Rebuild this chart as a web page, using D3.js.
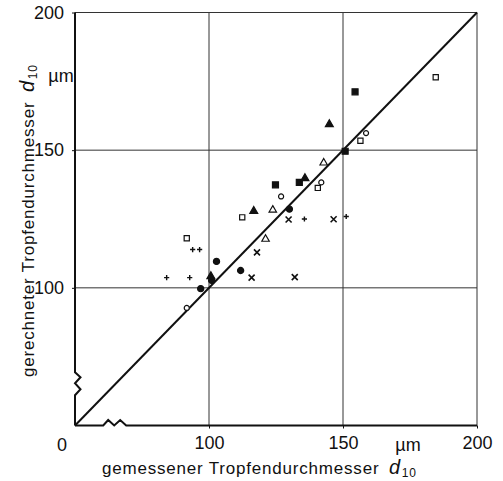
<!DOCTYPE html>
<html>
<head>
<meta charset="utf-8">
<script src="https://cdn.jsdelivr.net/npm/d3@7"></script>
<style>
  body { margin: 0; background: #fff; }
  svg { display: block; }
  text { font-family: "Liberation Sans", Arial, sans-serif; fill: #111; }
</style>
</head>
<body>
<svg></svg>
<script>
var width = 503;
var height = 481;

// measured d10 vs calculated d10 (µm), one array per marker
var filledSquare = [[124.8, 137.4], [133.7, 138.3], [150.8, 149.6], [154.5, 171.2]];
var openSquare = [[91.7, 118.0], [112.4, 125.6], [140.6, 136.3], [156.5, 153.4], [184.6, 176.5]];
var filledCircle = [[96.9, 99.7], [102.8, 109.6], [101.0, 102.7], [111.8, 106.3], [130.0, 128.6]];
var openCircle = [[91.7, 92.7], [126.9, 133.2], [141.9, 138.3], [158.6, 156.2]];
var filledTriangle = [[100.7, 104.2], [116.7, 127.9], [135.8, 139.8], [144.9, 159.4]];
var openTriangle = [[121.1, 117.7], [123.8, 128.3], [142.8, 145.4]];
var times = [[117.9, 112.9], [115.9, 103.7], [129.7, 124.8], [132.0, 103.9], [146.5, 124.9]];
var plus = [[84.2, 103.7], [92.8, 103.7], [93.9, 113.9], [96.5, 113.9], [135.6, 125.0], [151.2, 125.9]];

var xTicks = [100, 150, 200];
var yTicks = [100, 150, 200];
var gridValues = [100, 150];
var domainMin = 50, domainMax = 200;
var breakAt = 65;

var svg = d3.select('svg')
    .attr('width', width)
    .attr('height', height);

var x = d3.scaleLinear().domain([domainMin, domainMax]).range([75, 477]);
var y = d3.scaleLinear().domain([domainMin, domainMax]).range([425.5, 12.5]);

// grid
var grid = svg.append('g').attr('class', 'grid')
    .attr('stroke', '#333').attr('stroke-width', 1).attr('fill', 'none');

grid.selectAll('line.v')
    .data(gridValues.concat([domainMax]))
    .enter().append('line')
    .attr('x1', function(d) { return x(d); })
    .attr('x2', function(d) { return x(d); })
    .attr('y1', y(domainMin))
    .attr('y2', y(domainMax));

grid.selectAll('line.h')
    .data(gridValues.concat([domainMax]))
    .enter().append('line')
    .attr('class', 'h')
    .attr('y1', function(d) { return y(d); })
    .attr('y2', function(d) { return y(d); })
    .attr('x1', x(domainMin))
    .attr('x2', x(domainMax));

// axes with the tick labels
var xAxis = svg.append('g')
    .attr('transform', 'translate(0,' + y(domainMin) + ')')
    .call(d3.axisBottom(x).tickValues(xTicks).tickSize(3).tickPadding(8).tickFormat(d3.format('d')));
var yAxis = svg.append('g')
    .attr('transform', 'translate(' + x(domainMin) + ',0)')
    .call(d3.axisLeft(y).tickValues(yTicks).tickSize(3).tickPadding(8).tickFormat(d3.format('d')));

[xAxis, yAxis].forEach(function(a) {
    a.select('.domain').remove();
    a.selectAll('line').attr('stroke', '#111');
    a.selectAll('text')
        .attr('fill', '#111')
        .style('font-family', '"Liberation Sans", Arial, sans-serif')
        .style('font-size', '18px');
});

// origin label
svg.append('text')
    .attr('x', x(domainMin) - 13)
    .attr('y', y(domainMin) + 25)
    .attr('text-anchor', 'middle')
    .style('font-size', '18px')
    .text('0');

// axis lines with break marks
var bx = x(breakAt), by = y(breakAt);
var x0 = x(domainMin), y0 = y(domainMin);
var yAxisPath = d3.path();
yAxisPath.moveTo(x0, y(domainMax));
yAxisPath.lineTo(x0, by - 12);
yAxisPath.lineTo(x0 + 5.5, by - 7);
yAxisPath.lineTo(x0, by - 1);
yAxisPath.lineTo(x0 + 5.5, by + 5);
yAxisPath.lineTo(x0, by + 11);
yAxisPath.lineTo(x0, y0);
var xAxisPath = d3.path();
xAxisPath.moveTo(x0, y0);
xAxisPath.lineTo(bx - 12, y0);
xAxisPath.lineTo(bx - 7, y0 - 5.5);
xAxisPath.lineTo(bx - 1, y0);
xAxisPath.lineTo(bx + 5, y0 - 5.5);
xAxisPath.lineTo(bx + 11, y0);
xAxisPath.lineTo(x(domainMax), y0);

svg.append('path').attr('d', yAxisPath.toString())
    .attr('fill', 'none').attr('stroke', '#111').attr('stroke-width', 2);
svg.append('path').attr('d', xAxisPath.toString())
    .attr('fill', 'none').attr('stroke', '#111').attr('stroke-width', 2);

// 1:1 line
svg.append('line')
    .attr('x1', x(domainMin)).attr('y1', y(domainMin))
    .attr('x2', x(domainMax)).attr('y2', y(domainMax))
    .attr('stroke', '#111').attr('stroke-width', 2);

// markers
var series = [
    { data: filledSquare, shape: 'square', filled: true },
    { data: openSquare, shape: 'square', filled: false },
    { data: filledCircle, shape: 'circle', filled: true },
    { data: openCircle, shape: 'circle', filled: false },
    { data: filledTriangle, shape: 'triangle', filled: true },
    { data: openTriangle, shape: 'triangle', filled: false },
    { data: times, shape: 'times', filled: false },
    { data: plus, shape: 'plus', filled: false }
];

function ShapePath(s) {
    if (s.shape === 'square') return s.filled ? 'M-3,-3H3V3H-3Z' : 'M-2.6,-2.6H2.6V2.6H-2.6Z';
    if (s.shape === 'circle') return d3.symbol(d3.symbolCircle, s.filled ? 30 : 20)();
    if (s.shape === 'triangle') return d3.symbol(d3.symbolTriangle, s.filled ? 27 : 24)();
    if (s.shape === 'times') return 'M-3,-3L3,3M-3,3L3,-3';
    return 'M-2.6,0H2.6M0,-2.6V2.6';
}

var marks = svg.append('g').attr('class', 'marks');
series.forEach(function(s) {
    marks.append('g').selectAll('path')
        .data(s.data)
        .enter().append('path')
        .attr('transform', function(d) { return 'translate(' + x(d[0]) + ',' + y(d[1]) + ')'; })
        .attr('d', ShapePath(s))
        .attr('fill', s.filled ? '#111' : '#fff')
        .attr('stroke', '#111')
        .attr('stroke-width', s.shape === 'times' ? 1.6 : (s.shape === 'plus' ? 1.4 : 1.2));
});

// unit labels
svg.append('text')
    .attr('x', 61).attr('y', 82)
    .attr('text-anchor', 'middle')
    .style('font-size', '18px')
    .text('µm');
svg.append('text')
    .attr('x', 408).attr('y', 451)
    .attr('text-anchor', 'middle')
    .style('font-size', '18px')
    .text('µm');

// axis titles
function AxisTitle(t, label) {
    t.style('font-size', '17px').style('letter-spacing', '0.8px');
    t.append('tspan').text(label + ' ');
    t.append('tspan').attr('dx', 4).style('font-style', 'italic')
        .style('font-size', '20px').text('d');
    t.append('tspan').attr('dx', 1).attr('dy', 3).style('font-size', '12px').text('10');
}

svg.append('text')
    .attr('x', 102).attr('y', 474)
    .call(AxisTitle, 'gemessener Tropfendurchmesser');

svg.append('text')
    .attr('transform', 'translate(34,377) rotate(-90)')
    .call(AxisTitle, 'gerechneter Tropfendurchmesser');
</script>
</body>
</html>
